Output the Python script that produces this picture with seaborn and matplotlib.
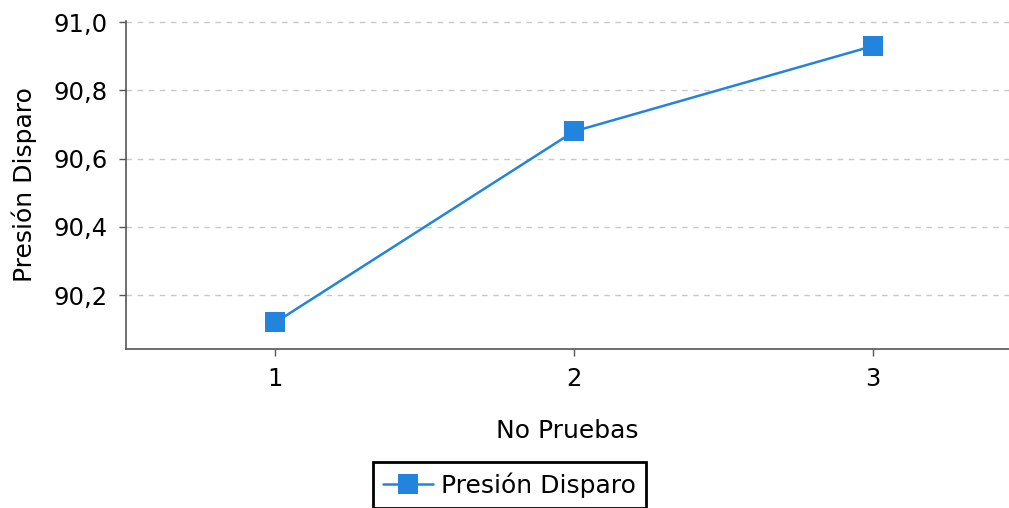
import numpy as np
import pandas as pd
import seaborn as sns
import matplotlib.pyplot as plt
from matplotlib.ticker import FuncFormatter

# datos
pruebas = [1, 2, 3]
presion = [90.12, 90.68, 90.93]
y_ticks = [90.2, 90.4, 90.6, 90.8, 91.0]

df = pd.DataFrame({'No Pruebas': pruebas, 'Presión Disparo': presion})

sns.set_style('white')
plt.rcParams['font.family'] = ['DejaVu Sans']
plt.rcParams['text.color'] = 'black'
plt.rcParams['axes.labelcolor'] = 'black'

fig = plt.figure(figsize=(10.09, 5.08), dpi=100)
ax = fig.add_axes([126 / 1009, 159 / 508, 883 / 1009, 328.5 / 508])

sns.lineplot(data=df, x='No Pruebas', y='Presión Disparo', ax=ax,
             color='#2384de', marker='s', markersize=14, markeredgewidth=0,
             linewidth=1.8, label='Presión Disparo', legend=False)

ax.set_xlim(0.5, 3.456)
ax.set_ylim(90.042, 91.005)
ax.set_xticks(pruebas)
ax.set_yticks(y_ticks)
ax.yaxis.set_major_formatter(FuncFormatter(lambda v, p: f'{v:.1f}'.replace('.', ',')))

ax.grid(axis='y', linestyle=(0, (4, 4)), color='#c8c8c8', linewidth=1)
ax.grid(axis='x', visible=False)
for s in ['top', 'right']:
    ax.spines[s].set_visible(False)
for s in ['left', 'bottom']:
    ax.spines[s].set_color('#555555')
    ax.spines[s].set_linewidth(1.2)
ax.tick_params(axis='both', direction='out', length=5, width=1, color='#555555',
               labelsize=17.5, labelcolor='black', left=True, bottom=True, pad=8)

ax.set_xlabel('No Pruebas', fontsize=18, labelpad=20)
ax.set_ylabel('Presión Disparo', fontsize=18, labelpad=12)

handles, labels = ax.get_legend_handles_labels()
leg = fig.legend(handles, labels, loc='upper center', bbox_to_anchor=(0.505, 1 - 462 / 508),
                 borderaxespad=0, fontsize=18, frameon=True, fancybox=False,
                 handlelength=2.0, handletextpad=0.35, borderpad=0.4, framealpha=1)
leg.get_frame().set_edgecolor('black')
leg.get_frame().set_linewidth(2)

fig.savefig('out.png', dpi=100)
